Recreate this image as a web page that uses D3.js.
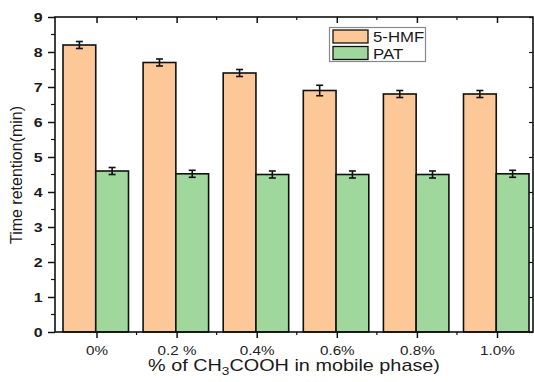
<!DOCTYPE html>
<html><head><meta charset="utf-8">
<script src="https://cdn.jsdelivr.net/npm/d3@7"></script>
<style>body{margin:0;background:#fff}svg{display:block}text{font-family:Arial,"Liberation Sans",sans-serif}</style>
</head><body><svg id="c" width="534" height="382"></svg>
<script>
const categories = ["0%", "0.2 %", "0.4%", "0.6%", "0.8%", "1.0%"];
const seriesNames = ["5-HMF", "PAT"];
const hmf = [8.2, 7.7, 7.4, 6.9, 6.8, 6.8];
const hmfErr = [0.1, 0.1, 0.1, 0.15, 0.1, 0.1];
const pat = [4.6, 4.52, 4.5, 4.5, 4.5, 4.52];
const patErr = [0.1, 0.1, 0.1, 0.1, 0.1, 0.1];
const yTicks = [0, 1, 2, 3, 4, 5, 6, 7, 8, 9];
const colors = ["#FCC898", "#9FD79D"];

const SX = 1.18; // horizontal stretch of text in the reference
const svg = d3.select("#c");
const L = 55, R = 533, T = 17, B = 332;
const x = d3.scalePoint().domain(categories).range([96.5, 497]);
const sub = d3.scaleBand().domain(seriesNames).range([-33.5, 32]);
const y = d3.scaleLinear().domain([0, 9]).range([B, T]);
const step = x.step();

const series = [
  {name: seriesNames[0], vals: hmf, err: hmfErr, color: colors[0]},
  {name: seriesNames[1], vals: pat, err: patErr, color: colors[1]}
];

series.forEach(s => {
  svg.append("g").selectAll("rect").data(categories).join("rect")
    .attr("x", (c) => x(c) + sub(s.name))
    .attr("width", sub.bandwidth())
    .attr("y", (c, i) => y(s.vals[i]))
    .attr("height", (c, i) => y(0) - y(s.vals[i]))
    .attr("fill", s.color).attr("stroke", "#111").attr("stroke-width", 1.6);
});
series.forEach(s => {
  const g = svg.append("g").attr("stroke", "#111").attr("stroke-width", 1.6);
  categories.forEach((c, i) => {
    const cx = x(c) + sub(s.name) + sub.bandwidth() / 2;
    const y1 = y(s.vals[i] + s.err[i]), y2 = y(s.vals[i] - s.err[i]);
    g.append("line").attr("x1", cx).attr("x2", cx).attr("y1", y1).attr("y2", y2);
    g.append("line").attr("x1", cx - 3.5).attr("x2", cx + 3.5).attr("y1", y1).attr("y2", y1);
    g.append("line").attr("x1", cx - 3.5).attr("x2", cx + 3.5).attr("y1", y2).attr("y2", y2);
  });
});

const yAxis = d3.axisLeft(y).tickValues(yTicks).tickFormat(d3.format("d")).tickSize(7).tickPadding(4);
const gy = svg.append("g").attr("transform", `translate(${L},0)`).call(yAxis);
gy.select(".domain").remove();
gy.selectAll("line").attr("stroke", "#111").attr("stroke-width", 1.5);
gy.selectAll("text").attr("font-size", 13.5).attr("font-weight", "bold").attr("fill", "#1a1a1a")
  .attr("x", -12.5 / SX).attr("transform", `scale(${SX},1)`);
const minor = d3.range(0.5, 9, 1);
svg.append("g").selectAll("line").data(minor).join("line")
  .attr("x1", L - 4).attr("x2", L).attr("y1", d => y(d)).attr("y2", d => y(d))
  .attr("stroke", "#111").attr("stroke-width", 1.2);
const gr = svg.append("g").attr("transform", `translate(${R},0)`).call(d3.axisLeft(y).tickValues(yTicks).tickSize(4).tickFormat(""));
gr.select(".domain").remove();
gr.selectAll("line").attr("stroke", "#111").attr("stroke-width", 1.2);

const gx = svg.append("g").attr("transform", `translate(0,${B})`).call(d3.axisBottom(x).tickSize(6).tickPadding(8));
gx.select(".domain").remove();
gx.selectAll("line").attr("stroke", "#111").attr("stroke-width", 1.5);
gx.selectAll("text").attr("font-size", 12.5).attr("fill", "#222").attr("transform", `scale(${SX + 0.04},1)`);
const mids = categories.slice(0, -1).map(c => x(c) + step / 2);
svg.append("g").selectAll("line").data(mids).join("line")
  .attr("x1", d => d).attr("x2", d => d).attr("y1", B).attr("y2", B + 3)
  .attr("stroke", "#111").attr("stroke-width", 1.2);
const gt = svg.append("g").attr("transform", `translate(0,${T})`).call(d3.axisBottom(x).tickSize(6).tickFormat(""));
gt.select(".domain").remove();
gt.selectAll("line").attr("stroke", "#111").attr("stroke-width", 1.5);
svg.append("g").selectAll("line").data(mids).join("line")
  .attr("x1", d => d).attr("x2", d => d).attr("y1", T).attr("y2", T + 3)
  .attr("stroke", "#111").attr("stroke-width", 1.2);

svg.append("rect").attr("x", L).attr("y", T).attr("width", R - L).attr("height", B - T)
  .attr("fill", "none").attr("stroke", "#111").attr("stroke-width", 1.6);

svg.append("text").attr("transform", "translate(22,175) rotate(-90)").attr("text-anchor", "middle")
  .attr("font-size", 16).attr("fill", "#1a1a1a").text("Time retention(min)");
const xt = svg.append("text").attr("transform", `translate(294,371) scale(1.24,1)`).attr("text-anchor", "middle")
  .attr("font-size", 16).attr("fill", "#1a1a1a");
xt.append("tspan").text("% of CH");
xt.append("tspan").attr("font-size", 11).attr("dy", 4).text("3");
xt.append("tspan").attr("dy", -4).text("COOH in mobile phase)");

const lg = svg.append("g");
lg.append("rect").attr("x", 329.5).attr("y", 27.5).attr("width", 96).attr("height", 34)
  .attr("fill", "#fff").attr("stroke", "#888").attr("stroke-width", 1.2);
series.forEach((s, i) => {
  lg.append("rect").attr("x", 333).attr("y", 30 + i * 16.5).attr("width", 35).attr("height", 13)
    .attr("fill", s.color).attr("stroke", "#111").attr("stroke-width", 1.3);
  lg.append("text").attr("transform", `translate(373,${42 + i * 16.5}) scale(1.12,1)`)
    .attr("font-size", 15).attr("fill", "#1a1a1a").text(s.name);
});
</script></body></html>
